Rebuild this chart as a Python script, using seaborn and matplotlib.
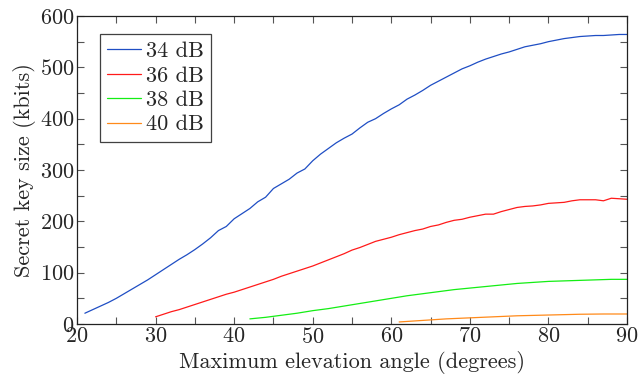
import numpy as np
import pandas as pd
import matplotlib
matplotlib.use("Agg")
import matplotlib.pyplot as plt
import seaborn as sns
from matplotlib.ticker import MultipleLocator

angle_34 = list(range(21, 91))
key_34 = [21, 28, 35, 42, 50, 59, 68, 77, 86, 96,
          106, 116, 126, 135, 145, 156, 168, 182, 190, 205,
          215, 225, 238, 247, 264, 273, 282, 294, 302, 318,
          331, 342, 353, 362, 370, 382, 393, 400, 410, 419,
          427, 438, 446, 455, 465, 473, 481, 489, 497, 503,
          510, 516, 521, 526, 530, 535, 540, 543, 546, 550,
          553, 556, 558, 560, 561, 562, 562, 563, 564, 564]

angle_36 = list(range(30, 91))
key_36 = [14, 19, 24, 28, 33, 38, 43, 48, 53, 58,
          62, 67, 72, 77, 82, 87, 93, 98, 103, 108,
          113, 119, 125, 131, 137, 144, 149, 155, 161, 165,
          169, 174, 178, 182, 185, 190, 193, 198, 202, 204,
          208, 211, 214, 214, 219, 223, 227, 229, 230, 232,
          235, 236, 237, 240, 242, 242, 242, 240, 245, 244,
          243]

angle_38 = [42, 44, 46, 48, 50, 52, 54, 56, 58, 60, 62, 64, 66, 68, 70,
            72, 74, 76, 78, 80, 82, 84, 86, 88, 90]
key_38 = [10, 13, 17, 21, 26, 30, 35, 40, 45, 50, 55, 59, 63, 67, 70,
          73, 76, 79, 81, 83, 84, 85, 86, 87, 87]

angle_40 = [61, 63, 65, 67, 70, 73, 76, 80, 84, 87, 90]
key_40 = [4, 6, 8, 10, 12, 14, 16, 17.5, 19, 19.5, 19.5]

labels = ["34 dB", "36 dB", "38 dB", "40 dB"]
colors = ["#1f4ec4", "#ff1a1a", "#14ee14", "#ff8a1a"]

frames = []
for lab, xs, ys in zip(labels, [angle_34, angle_36, angle_38, angle_40],
                       [key_34, key_36, key_38, key_40]):
    frames.append(pd.DataFrame({"angle": xs, "key": ys, "snr": lab}))
df = pd.concat(frames, ignore_index=True)

sns.set_style("ticks")
plt.rcParams["font.family"] = ["cmr10", "DejaVu Serif"]
plt.rcParams["mathtext.fontset"] = "cm"
plt.rcParams["axes.formatter.use_mathtext"] = True
plt.rcParams["axes.unicode_minus"] = False

fig = plt.figure(figsize=(6.38, 3.79), dpi=100)
ax = fig.add_axes([0.1207, 0.1451, 0.8621, 0.8127])

sns.lineplot(data=df, x="angle", y="key", hue="snr", palette=colors,
             hue_order=labels, linewidth=0.9, ax=ax, estimator=None, sort=True)

ax.set_xlim(20, 90)
ax.set_ylim(0, 600)
ax.xaxis.set_major_locator(MultipleLocator(10))
ax.xaxis.set_minor_locator(MultipleLocator(5))
ax.yaxis.set_major_locator(MultipleLocator(100))
ax.yaxis.set_minor_locator(MultipleLocator(50))
ax.tick_params(which="both", direction="in", top=True, right=True,
               color="#555555", width=0.8, labelsize=16, pad=2)
ax.tick_params(which="major", length=5)
ax.tick_params(which="minor", length=5)
for s in ax.spines.values():
    s.set_linewidth(0.9)
    s.set_color("#222222")

ax.set_xlabel("Maximum elevation angle (degrees)", fontsize=16, labelpad=3)
ax.set_ylabel("Secret key size (kbits)", fontsize=16, labelpad=3)

leg = ax.legend(loc="upper left", bbox_to_anchor=(0.042, 0.94), fontsize=16,
                frameon=True, fancybox=False, edgecolor="#111111",
                handlelength=1.5, handletextpad=0.25, labelspacing=0.22,
                borderpad=0.32, borderaxespad=0.0)
leg.get_frame().set_linewidth(0.9)

fig.savefig("out.png", dpi=100)
